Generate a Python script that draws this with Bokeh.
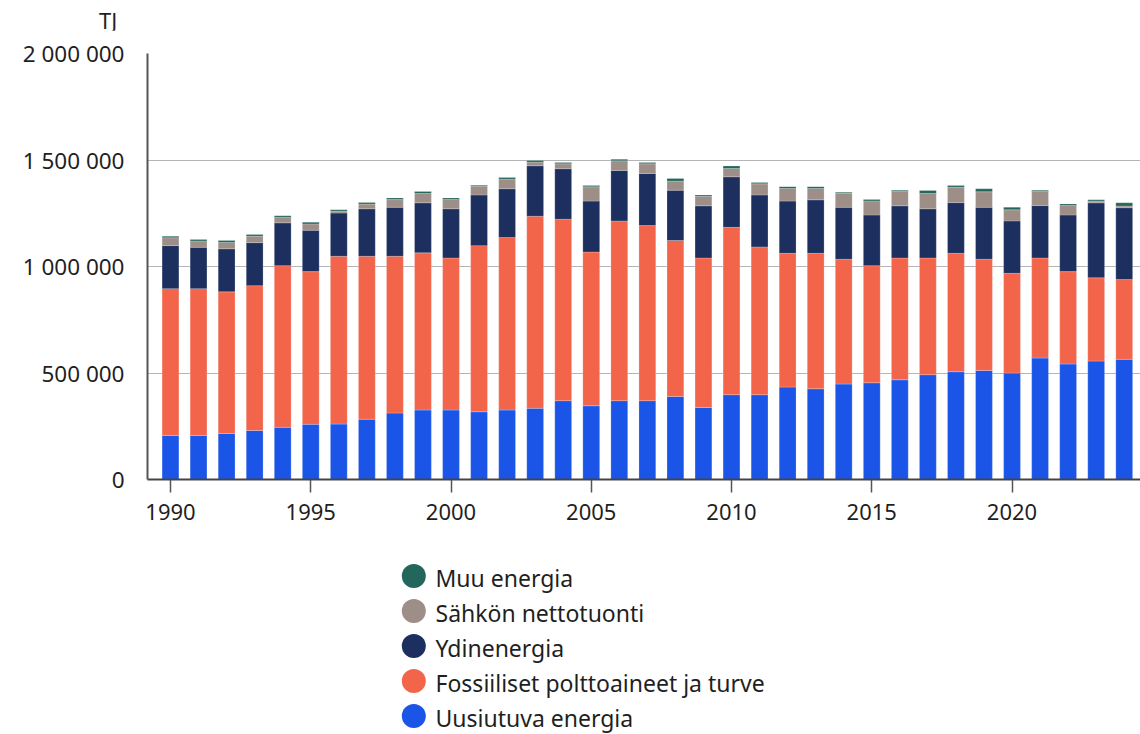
from bokeh.plotting import figure
from bokeh.models import Range1d, FixedTicker, ColumnDataSource, Div
from bokeh.layouts import column
from bokeh.embed import file_html
from bokeh.resources import INLINE
from bokeh.core.properties import value

# ---------------- data (TJ) ----------------
years = list(range(1990, 2025))
uusiutuva = [207000, 207000, 216000, 230000, 245000, 259000, 260000, 283000, 312000, 326000,
             326000, 318000, 326000, 334000, 370000, 346000, 370000, 370000, 390000, 338000,
             398000, 398000, 434000, 426000, 448000, 454000, 468000, 492000, 506000, 512000,
             500000, 570000, 542000, 556000, 564000]
fossiiliset = [689000, 689000, 665000, 680000, 759000, 717000, 788000, 765000, 736000, 738000,
               714000, 780000, 810000, 902000, 852000, 722000, 844000, 822000, 732000, 702000,
               786000, 694000, 628000, 636000, 586000, 550000, 572000, 548000, 556000, 522000,
               468000, 470000, 434000, 391000, 375000]
ydinenergia = [202000, 194000, 202000, 202000, 201000, 194000, 203000, 223000, 230000, 235000,
               231000, 238000, 229000, 237000, 237000, 239000, 237000, 245000, 236000, 245000,
               237000, 244000, 245000, 251000, 244000, 238000, 245000, 231000, 238000, 244000,
               246000, 246000, 266000, 352000, 337000]
nettotuonti = [37000, 30000, 30000, 30000, 25000, 30000, 8000, 22000, 36000, 44000,
               44000, 41000, 45000, 17000, 23000, 67000, 45000, 45000, 43000, 45000,
               39000, 52000, 59000, 53000, 66000, 66000, 67000, 72000, 72000, 73000,
               52000, 66000, 44000, 8000, 8000]
muu = [7000, 7000, 9000, 8000, 8000, 8000, 7000, 7000, 8000, 9000,
       7000, 5000, 8000, 8000, 6000, 6000, 7000, 6000, 12000, 6000,
       12000, 6000, 9000, 9000, 5000, 6000, 6000, 14000, 8000, 14000,
       12000, 6000, 8000, 6000, 15000]

series_keys = ["uusiutuva", "fossiiliset", "ydinenergia", "nettotuonti", "muu"]
series_names = ["Uusiutuva energia", "Fossiiliset polttoaineet ja turve", "Ydinenergia",
                "Sähkön nettotuonti", "Muu energia"]
colors = ["#1b55e8", "#f2654b", "#1c2f5e", "#9d8e87", "#23665b"]

y_ticks = [0, 500000, 1000000, 1500000, 2000000]
y_tick_labels = ["0", "500 000", "1 000 000", "1 500 000", "2 000 000"]
x_ticks = [1990, 1995, 2000, 2005, 2010, 2015, 2020]
unit_label = "TJ"

FONT = "Noto Sans"
TEXT_COLOR = "#1f1f1f"

source = ColumnDataSource(dict(year=years, uusiutuva=uusiutuva, fossiiliset=fossiiliset,
                               ydinenergia=ydinenergia, nettotuonti=nettotuonti, muu=muu))

W = 1140
H_UNIT = 30
H_TOP = 508
FRAME_LEFT = 147

# unit label strip above the chart
unit_div = Div(text=unit_label, width=W, height=H_UNIT, margin=0,
               styles={"font-family": FONT, "font-size": "22px", "line-height": "22px",
                       "color": TEXT_COLOR, "padding-left": "99px", "padding-top": "9px",
                       "box-sizing": "border-box"})

p = figure(width=W, height=H_TOP, output_backend="svg", toolbar_location=None,
           x_range=Range1d(1989.18, 2024.58), y_range=Range1d(0, 2000000),
           min_border_left=FRAME_LEFT, min_border_right=0, min_border_top=53 - H_UNIT,
           min_border_bottom=59)

p.vbar_stack(series_keys, x="year", width=0.6, color=colors, source=source,
             line_color="white", line_alpha=0.35, line_width=0.6)

p.outline_line_color = None
p.xgrid.grid_line_color = None
p.ygrid.grid_line_color = "#b5b5b5"
p.ygrid.grid_line_width = 1.2
p.ygrid.ticker = FixedTicker(ticks=y_ticks)

# y axis
p.yaxis.ticker = FixedTicker(ticks=y_ticks)
p.yaxis.major_label_overrides = {t: l for t, l in zip(y_ticks, y_tick_labels)}
p.yaxis.major_tick_line_color = None
p.yaxis.minor_tick_line_color = None
p.yaxis.major_tick_out = 0
p.yaxis.major_tick_in = 0
p.yaxis.major_label_standoff = 23
p.yaxis.axis_line_color = "#555555"
p.yaxis.axis_line_width = 2
p.yaxis.major_label_text_font = FONT
p.yaxis.major_label_text_font_size = "22.5px"
p.yaxis.major_label_text_color = TEXT_COLOR

# x axis
p.xaxis.ticker = FixedTicker(ticks=x_ticks)
p.xaxis.minor_tick_line_color = None
p.xaxis.major_tick_out = 13
p.xaxis.major_tick_in = 0
p.xaxis.major_tick_line_color = "#555555"
p.xaxis.major_tick_line_width = 1.5
p.xaxis.axis_line_color = "#444444"
p.xaxis.axis_line_width = 2
p.xaxis.major_label_standoff = 11
p.xaxis.major_label_text_font = FONT
p.xaxis.major_label_text_font_size = "22px"
p.xaxis.major_label_text_color = TEXT_COLOR

# ---------------- legend (separate panel, x in page pixels) ----------------
H_LEG = 196
leg = figure(width=W, height=H_LEG, output_backend="svg", toolbar_location=None,
             x_range=Range1d(FRAME_LEFT, W), y_range=Range1d(H_LEG, 0),
             x_axis_location=None, y_axis_location=None,
             min_border_left=FRAME_LEFT, min_border_right=0, min_border_top=0, min_border_bottom=0)
leg.grid.visible = False
leg.outline_line_color = None

order = list(range(len(series_names)))[::-1]
leg_src = ColumnDataSource(dict(
    x=[413.3] * len(order),
    y=[37.5 + 35 * i for i in range(len(order))],
    tx=[435] * len(order),
    label=[series_names[k] for k in order],
    color=[colors[k] for k in order],
))
leg.scatter(x="x", y="y", size=24, marker="circle", fill_color="color", line_color=None, source=leg_src)
leg.text(x="tx", y="y", text="label", text_baseline="middle", text_align="left",
         text_font=value(FONT), text_font_size="23px", text_color=TEXT_COLOR, source=leg_src,
         y_offset=2)

layout = column(unit_div, p, leg, spacing=0)
open("out.html", "w").write(file_html(layout, INLINE))
